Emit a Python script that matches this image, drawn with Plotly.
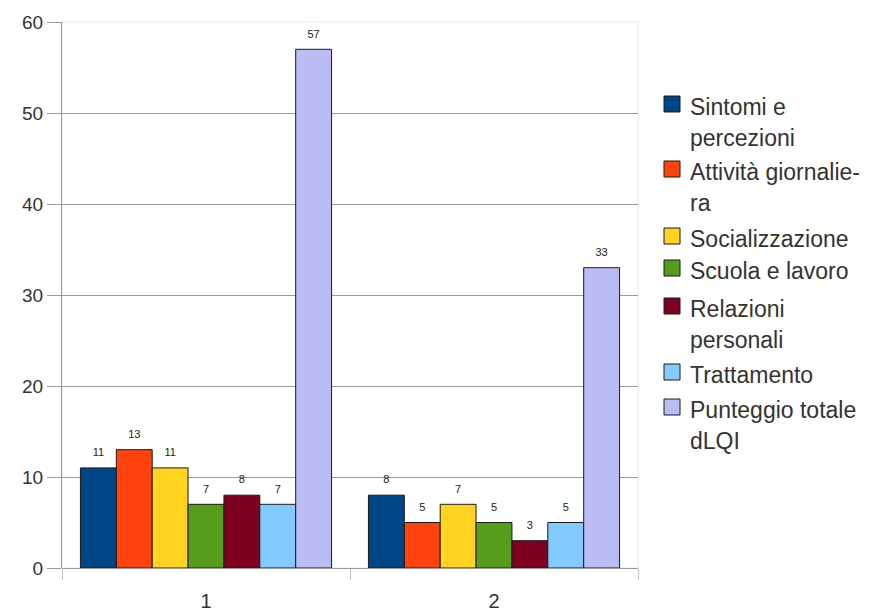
import plotly.graph_objects as go

# Groups on the x axis
categories = ["1", "2"]

# Score per dimension in each group
series_names = [
    "Sintomi e percezioni",
    "Attività giornaliera",
    "Socializzazione",
    "Scuola e lavoro",
    "Relazioni personali",
    "Trattamento",
    "Punteggio totale dLQI",
]
# legend text as it wraps in the key
legend_lines = [
    ["Sintomi e", "percezioni"],
    ["Attività giornalie-", "ra"],
    ["Socializzazione"],
    ["Scuola e lavoro"],
    ["Relazioni", "personali"],
    ["Trattamento"],
    ["Punteggio totale", "dLQI"],
]
sintomi = [11, 8]
attivita = [13, 5]
socializzazione = [11, 7]
scuola = [7, 5]
relazioni = [8, 3]
trattamento = [7, 5]
totale = [57, 33]

series_values = [sintomi, attivita, socializzazione, scuola, relazioni, trattamento, totale]
colors = ["#004586", "#ff420e", "#ffd320", "#579d1c", "#7e0021", "#83caff", "#bcbcf4"]

y_ticks = [0, 10, 20, 30, 40, 50, 60]

FONT = "Liberation Sans"
TEXT = "#333333"
GRID = "#9a9a9a"

W, H = 875, 614
ML, MR, MT, MB = 62, 237, 22, 46
PW, PH = W - ML - MR, H - MT - MB


def px_x(px):
    return (px - ML) / PW


def px_y(py):
    return (H - MB - py) / PH


fig = go.Figure()
for name, vals, col in zip(series_names, series_values, colors):
    fig.add_trace(go.Bar(
        x=categories,
        y=vals,
        name=name,
        showlegend=False,
        marker=dict(color=col, line=dict(color="#1a1a1a", width=1)),
        # value label, lifted a little above the bar by a short spacer line
        text=[f"<span style='font-size:11px'>{v}</span><br> " for v in vals],
        textposition="outside",
        textfont=dict(family=FONT, size=6, color="#222222"),
        cliponaxis=False,
    ))

# key on the right: coloured squares with wrapped labels
square_centres = [104, 169, 236, 268, 306, 372, 407]
line_step = 31
for lines, col, cy in zip(legend_lines, colors, square_centres):
    fig.add_shape(type="rect", xref="paper", yref="paper",
                  x0=px_x(664), x1=px_x(680), y0=px_y(cy + 8), y1=px_y(cy - 8),
                  fillcolor=col, line=dict(color="#1a1a1a", width=1))
    for k, line in enumerate(lines):
        fig.add_annotation(xref="paper", yref="paper",
                           x=px_x(688), y=px_y(cy + 3 + k * line_step),
                           xanchor="left", yanchor="middle", showarrow=False,
                           text=line, font=dict(family=FONT, size=23, color=TEXT))

fig.update_layout(
    width=W,
    height=H,
    margin=dict(l=ML, r=MR, t=MT, b=MB, autoexpand=False),
    paper_bgcolor="white",
    plot_bgcolor="white",
    barmode="group",
    bargap=0.128,
    bargroupgap=0,
    showlegend=False,
    font=dict(family=FONT, size=18, color=TEXT),
    xaxis=dict(
        automargin=False,
        showgrid=False,
        showline=False,
        ticks="outside",
        tickson="boundaries",
        ticklen=11,
        tickcolor="#c4c4c4",
        ticklabelstandoff=19,
        tickfont=dict(family=FONT, size=20, color=TEXT),
    ),
    yaxis=dict(
        automargin=False,
        range=[0, 60],
        tickvals=y_ticks,
        showgrid=True,
        gridcolor=GRID,
        gridwidth=1,
        zeroline=True,
        zerolinecolor=GRID,
        zerolinewidth=1,
        showline=True,
        linecolor=GRID,
        linewidth=1,
        ticks="outside",
        ticklen=14,
        tickcolor=GRID,
        tickfont=dict(family=FONT, size=19, color=TEXT),
    ),
)

# faint frame around the plotting area
fig.add_shape(type="rect", xref="paper", yref="paper", x0=0, y0=0, x1=1, y1=1,
              line=dict(color="#ebebeb", width=1), layer="below")

fig.write_html("out.html")
